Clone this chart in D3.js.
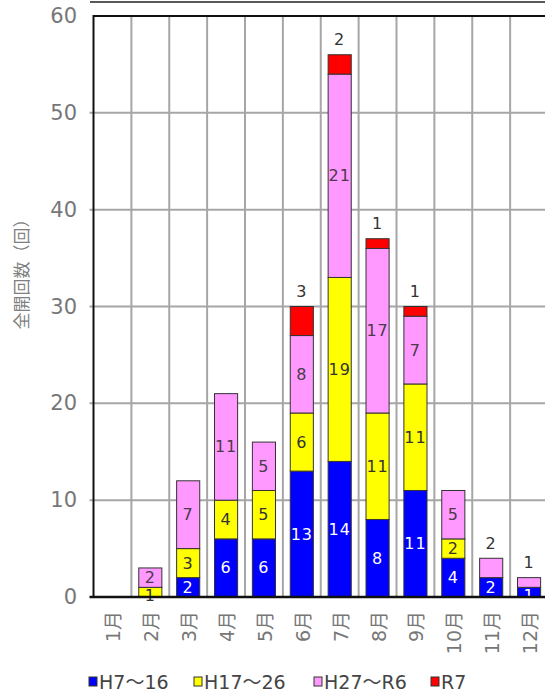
<!DOCTYPE html>
<html><head><meta charset="utf-8">
<script src="https://cdn.jsdelivr.net/npm/d3@7"></script>
<style>
html,body{margin:0;padding:0;background:#fff;}
svg{display:block;}
</style></head>
<body>
<svg id="chart" width="545" height="693"></svg>
<script>
const months = ["1月","2月","3月","4月","5月","6月","7月","8月","9月","10月","11月","12月"];
const seriesNames = ["H7～16","H17～26","H27～R6","R7"];
const h7_16  = [0,0,2,6,6,13,14,8,11,4,2,1];
const h17_26 = [0,1,3,4,5,6,19,11,11,2,0,0];
const h27_r6 = [0,2,7,11,5,8,21,17,7,5,2,1];
const r7     = [0,0,0,0,0,3,2,1,1,0,0,0];
const yTicks = [0,10,20,30,40,50,60];
const yTitle = "全開回数（回）";

const colors = ["#0000ff","#ffff00","#ff99ff","#ff0000"];
const labelColors = ["#ffffff","#333333","#4a3a4a","#333333"];
const pinkAbove = ["11月","12月"];

const svg = d3.select("#chart");
const pLeft = 93.5, pTop = 16, pBottom = 597, pRight = 548;
const x = d3.scaleBand().domain(months).range([pLeft, pRight]).paddingInner(0.39).paddingOuter(0.195);
const xb = d3.scaleBand().domain(months).range([pLeft, pRight]).padding(0);
const y = d3.scaleLinear().domain([0,60]).range([pBottom, pTop]);

const table = months.map((m,i)=>({month:m, s0:h7_16[i], s1:h17_26[i], s2:h27_r6[i], s3:r7[i]}));
const keys = ["s0","s1","s2","s3"];
const stacked = d3.stack().keys(keys)(table);

// title remnant at top (clipped title underline)
svg.append("line").attr("x1",90).attr("x2",545).attr("y1",2).attr("y2",2)
  .attr("stroke","#222").attr("stroke-width",1.5);

// horizontal gridlines
const g = svg.append("g");
g.selectAll("line.h").data(yTicks.filter(t=>t>0 && t<60)).enter().append("line")
  .attr("x1",pLeft-4).attr("x2",545).attr("y1",d=>y(d)).attr("y2",d=>y(d))
  .attr("stroke","#a6a6a6").attr("stroke-width",2);
// vertical gridlines at band boundaries
g.selectAll("line.v").data(months.slice(1)).enter().append("line")
  .attr("x1",d=>xb(d)).attr("x2",d=>xb(d)).attr("y1",pTop).attr("y2",pBottom)
  .attr("stroke","#a6a6a6").attr("stroke-width",2);

// bars
const layers = svg.selectAll("g.layer").data(stacked).enter().append("g")
  .attr("fill",(d,i)=>colors[i]);
layers.selectAll("rect").data(d=>d.filter(v=>v[1]-v[0]>0)).enter().append("rect")
  .attr("x",d=>x(d.data.month)).attr("width",x.bandwidth())
  .attr("y",d=>y(d[1])).attr("height",d=>y(d[0])-y(d[1]))
  .attr("stroke","#333").attr("stroke-width",1);

// data labels
const lblFont = "'DejaVu Sans','Noto Sans CJK JP',sans-serif";
stacked.forEach((layer,si)=>{
  layer.forEach(d=>{
    const v = d[1]-d[0];
    if(v<=0) return;
    const cx = x(d.data.month)+x.bandwidth()/2;
    let cy, col = labelColors[si];
    if(si===3 || (si===2 && pinkAbove.includes(d.data.month))){
      cy = y(d[1]) - 15; col = "#333333";
    } else {
      cy = (y(d[0])+y(d[1]))/2;
      if (y(d[0]) - y(d[1]) < 12) cy += 3;
    }
    svg.append("text").attr("x",cx).attr("y",cy)
      .attr("text-anchor","middle").attr("dominant-baseline","central")
      .attr("font-family",lblFont).attr("font-size",16).attr("letter-spacing",1)
      .attr("fill",col).text(v);
  });
});

// axes frame (drawn over labels like the reference)
svg.append("line").attr("x1",pLeft).attr("x2",545).attr("y1",pTop).attr("y2",pTop)
  .attr("stroke","#111").attr("stroke-width",2);
svg.append("line").attr("x1",pLeft).attr("x2",pLeft).attr("y1",pTop-1).attr("y2",pBottom+1)
  .attr("stroke","#111").attr("stroke-width",2);
svg.append("line").attr("x1",pLeft-4).attr("x2",545).attr("y1",pBottom).attr("y2",pBottom)
  .attr("stroke","#111").attr("stroke-width",2.5);

// y tick labels
const tickFont = "'DejaVu Sans',sans-serif";
svg.selectAll("text.yt").data(yTicks).enter().append("text")
  .attr("x",77).attr("y",d=>y(d)).attr("text-anchor","end").attr("dominant-baseline","central")
  .attr("font-family",tickFont).attr("font-size",21).attr("fill","#777").text(d=>d);

// x labels rotated
svg.selectAll("text.xt").data(months).enter().append("text")
  .attr("transform",d=>`translate(${xb(d)+xb.bandwidth()/2+1},611) rotate(-90)`)
  .attr("text-anchor","end").attr("dominant-baseline","central")
  .attr("font-family","'DejaVu Sans','Noto Sans CJK JP',sans-serif").attr("font-size",19)
  .attr("fill","#777").text(d=>d);

// y title
svg.append("text").attr("transform","translate(20,270) rotate(-90)")
  .attr("text-anchor","middle").attr("dominant-baseline","central")
  .attr("font-family","'Noto Sans CJK JP',sans-serif").attr("font-size",17)
  .attr("fill","#808080").text(yTitle);

// legend
const legX = [89, 194, 314, 431];
const leg = svg.selectAll("g.leg").data(seriesNames).enter().append("g")
  .attr("transform",(d,i)=>`translate(${legX[i]},682)`);
leg.append("rect").attr("x",0).attr("y",-5).attr("width",8).attr("height",9)
  .attr("fill",(d,i)=>colors[i]).attr("stroke","#333").attr("stroke-width",1);
leg.append("text").attr("x",10).attr("y",0).attr("dominant-baseline","central")
  .attr("font-family","'DejaVu Sans','Noto Sans CJK JP',sans-serif").attr("font-size",19)
  .attr("fill","#444").text(d=>d);
</script>
</body></html>
